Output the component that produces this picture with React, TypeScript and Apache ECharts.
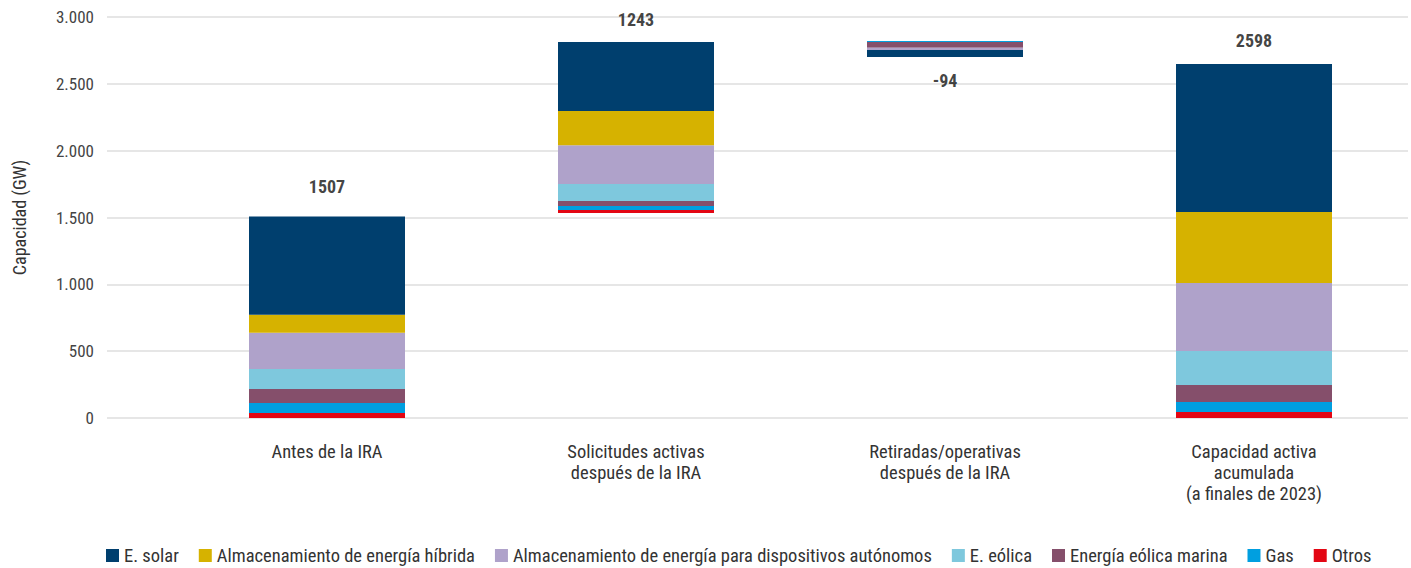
import React, { useEffect, useRef } from "react";
import * as echarts from "echarts";

const categories = [
  "Antes de la IRA",
  "Solicitudes activas\ndespués de la IRA",
  "Retiradas/operativas\ndespués de la IRA",
  "Capacidad activa\nacumulada\n(a finales de 2023)",
];
const baseValues = [0, 1534, 2820, 0];
const otros = [37, 22, 0, 45];
const gas = [75, 30, -7, 75];
const marina = [105, 37, -43, 127];
const eolica = [150, 127, 0, 254];
const autonomos = [270, 290, -17, 509];
const hibrida = [135, 257, 0, 531];
const solar = [735, 516, -52, 1107];
const totalValues = [1507, 1243, -94, 2598];
const isTotal = [true, false, false, true];

const seriesDefs = [
  { name: "Otros", data: otros, color: "#e30613" },
  { name: "Gas", data: gas, color: "#009fe0" },
  { name: "Energía eólica marina", data: marina, color: "#854f6b" },
  { name: "E. eólica", data: eolica, color: "#7ec8dd" },
  { name: "Almacenamiento de energía para dispositivos autónomos", data: autonomos, color: "#afa2ca" },
  { name: "Almacenamiento de energía híbrida", data: hibrida, color: "#d6b200" },
  { name: "E. solar", data: solar, color: "#003f6e" },
];
const legendOrder = [
  "E. solar",
  "Almacenamiento de energía híbrida",
  "Almacenamiento de energía para dispositivos autónomos",
  "E. eólica",
  "Energía eólica marina",
  "Gas",
  "Otros",
];

const FONT = "'Roboto Condensed', 'Liberation Sans Narrow', 'DejaVu Sans Condensed', Roboto, sans-serif";

export default function App() {
  const ref = useRef<HTMLDivElement>(null);
  useEffect(() => {
    if (!ref.current) return;
    const chart = echarts.init(ref.current, undefined, { renderer: "svg" });
    // cumulative waterfall positions of the value labels
    let running = 0;
    const labelPos = totalValues.map((v, i) => {
      running = isTotal[i] ? v : running + v;
      return running;
    });
    const option: any = {
      animation: false,
      textStyle: { fontFamily: FONT },
      grid: [
        { left: 107, right: 3, top: 17, bottom: 150 },
        { left: 172.5, right: 2.5, top: 17, bottom: 150 },
      ],
      xAxis: [
        { type: "value", gridIndex: 0, show: false, min: 0, max: 1 },
        {
          type: "category",
          gridIndex: 1,
          data: categories,
          axisLine: { show: false },
          axisTick: { show: false },
          axisLabel: {
            color: "#333",
            fontSize: 18.5,
            lineHeight: 21,
            margin: 23,
            fontFamily: FONT,
            interval: 0,
          },
        },
      ],
      yAxis: [
        {
          type: "value",
          gridIndex: 0,
          min: 0,
          max: 3000,
          interval: 500,
          name: "Capacidad (GW)",
          nameLocation: "middle",
          nameGap: 79,
          nameTextStyle: { color: "#333", fontSize: 18, fontFamily: FONT },
          axisLine: { show: false },
          axisTick: { show: false },
          axisLabel: {
            color: "#444",
            fontSize: 17,
            margin: 13,
            fontFamily: FONT,
            formatter: (v: number) =>
              v.toString().replace(/\B(?=(\d{3})+(?!\d))/g, "."),
          },
          splitLine: { lineStyle: { color: "#dedede", width: 1.5 } },
        },
        { type: "value", gridIndex: 1, min: 0, max: 3000, show: false },
      ],
      legend: {
        data: legendOrder,
        left: 101,
        top: 541,
        itemWidth: 13,
        itemHeight: 13,
        itemGap: 20,
        icon: "rect",
        textStyle: { color: "#333", fontSize: 18.5, fontFamily: FONT },
      },
      series: [
        {
          name: "base",
          type: "bar",
          xAxisIndex: 1,
          yAxisIndex: 1,
          stack: "w",
          stackStrategy: "all",
          barWidth: 156,
          data: baseValues,
          itemStyle: { color: "transparent" },
          silent: true,
        },
        ...seriesDefs.map((d) => ({
          name: d.name,
          type: "bar",
          xAxisIndex: 1,
          yAxisIndex: 1,
          stack: "w",
          stackStrategy: "all",
          barWidth: 156,
          data: d.data,
          itemStyle: { color: d.color },
        })),
        {
          name: "labels",
          type: "scatter",
          xAxisIndex: 1,
          yAxisIndex: 1,
          symbolSize: 1,
          itemStyle: { color: "transparent" },
          silent: true,
          data: labelPos.map((v, i) => {
            const neg = totalValues[i] < 0;
            return {
              value: [i, v],
              label: {
                show: true,
                position: neg ? "bottom" : "top",
                distance: neg ? 8 : 21,
                formatter: String(totalValues[i]),
                color: "#111",
                fontWeight: "bold",
                fontSize: 18,
                fontFamily: FONT,
              },
            };
          }),
        },
      ],
    };
    chart.setOption(option);
    return () => chart.dispose();
  }, []);
  return (
    <div
      ref={ref}
      style={{ position: "fixed", left: 0, top: 0, width: 1411, height: 568, background: "#fff" }}
    />
  );
}
